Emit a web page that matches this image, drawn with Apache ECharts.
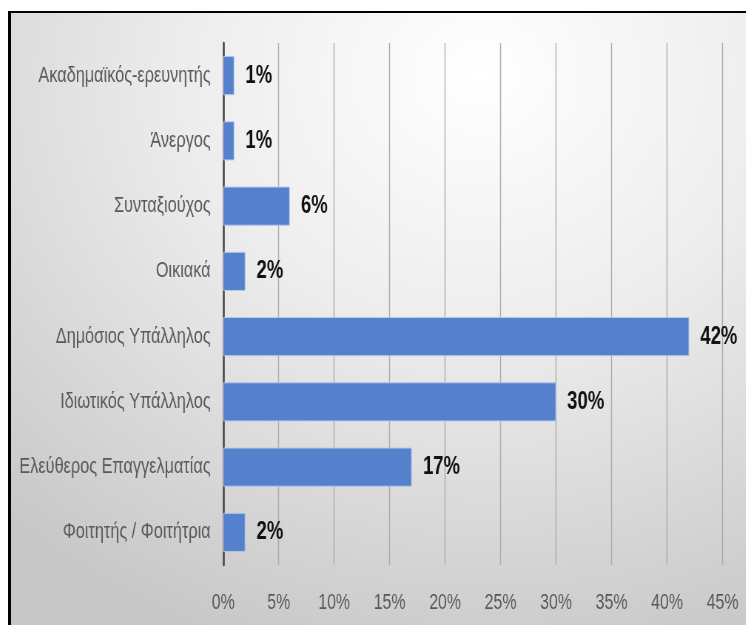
<!DOCTYPE html>
<html>
<head>
<meta charset="utf-8">
<script src="https://cdn.jsdelivr.net/npm/echarts@6/dist/echarts.min.js"></script>
<style>
  html, body { margin: 0; padding: 0; background: #ffffff; overflow: hidden; }
  #frame {
    position: absolute; left: 8px; top: 11px;
    width: 735px; height: 612px; overflow: hidden;
    border-left: 3px solid #000; border-top: 2px solid #000;
    background: radial-gradient(ellipse 95% 100% at 64% 10%, #ffffff 0%, #ededed 42%, #c7c7c7 100%);
  }
  /* narrow lettering: the chart is laid out wider, then condensed horizontally */
  #chart { height: 612px; transform-origin: 0 0; }
</style>
</head>
<body>
<div id="frame"><div id="chart"></div></div>
<script>
// Occupation categories, listed top to bottom
const categories = [
  'Ακαδημαϊκός-ερευνητής',
  'Άνεργος',
  'Συνταξιούχος',
  'Οικιακά',
  'Δημόσιος Υπάλληλος',
  'Ιδιωτικός Υπάλληλος',
  'Ελεύθερος Επαγγελματίας',
  'Φοιτητής / Φοιτήτρια'
];
// Share of respondents, percent
const shares = [1, 1, 6, 2, 42, 30, 17, 2];
// Percent axis ticks
const axisMin = 0, axisMax = 45, axisStep = 5;

const squeeze = 0.74;
const frameW = 735;
const el = document.getElementById('chart');
el.style.width = (frameW / squeeze) + 'px';
el.style.transform = 'scaleX(' + squeeze + ')';

const sans = '"Liberation Sans", Arial, sans-serif';

const chart = echarts.init(el, null, { renderer: 'canvas' });
chart.setOption({
  animation: false,
  backgroundColor: 'transparent',
  grid: {
    left: 212.2 / squeeze, right: 23.3 / squeeze, top: 30, bottom: 60,
    outerBoundsMode: 'none', containLabel: false
  },
  xAxis: {
    type: 'value', min: axisMin, max: axisMax, interval: axisStep,
    axisLine: { show: false }, axisTick: { show: false },
    axisLabel: {
      formatter: '{value}%', color: '#595959', fontFamily: sans,
      fontSize: 21.5, margin: 27
    },
    splitLine: { show: true, lineStyle: { color: '#a9a9a9', width: 1.35 } }
  },
  yAxis: {
    type: 'category', data: categories, inverse: true,
    axisLine: { show: true, lineStyle: { color: '#474747', width: 2.6 } },
    axisTick: { show: false },
    axisLabel: { color: '#595959', fontFamily: sans, fontSize: 22, margin: 17 }
  },
  series: [{
    type: 'bar', data: shares, barCategoryGap: '40%',
    itemStyle: { color: '#5580cb', borderColor: '#b3c7ea', borderWidth: 1 },
    label: {
      show: true, position: 'right', distance: 15,
      formatter: '{c}%', color: '#111111', fontFamily: sans,
      fontWeight: 'bold', fontSize: 25
    }
  }]
});
</script>
</body>
</html>
